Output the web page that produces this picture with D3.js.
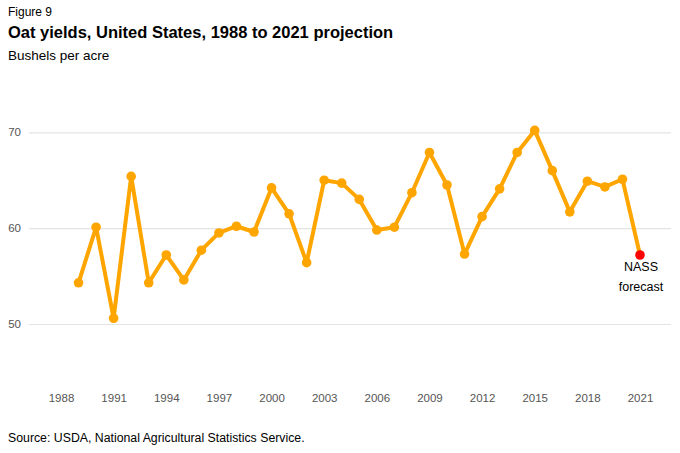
<!DOCTYPE html>
<html>
<head>
<meta charset="utf-8">
<script src="https://cdn.jsdelivr.net/npm/d3@7"></script>
<style>
  body { margin: 0; background: #fff; }
  svg { font-family: "Liberation Sans", Arial, sans-serif; display: block; }
</style>
</head>
<body>
<div id="chart-area"></div>
<script>
// data (bushels per acre)
const years = [1989, 1990, 1991, 1992, 1993, 1994, 1995, 1996, 1997, 1998, 1999, 2000,
    2001, 2002, 2003, 2004, 2005, 2006, 2007, 2008, 2009, 2010, 2011, 2012,
    2013, 2014, 2015, 2016, 2017, 2018, 2019, 2020, 2021];
const yields = [54.3, 60.1, 50.6, 65.4, 54.3, 57.2, 54.6, 57.7, 59.5, 60.2, 59.6, 64.2,
    61.5, 56.4, 65.0, 64.7, 63.0, 59.8, 60.1, 63.7, 67.9, 64.5, 57.3, 61.2,
    64.1, 67.9, 70.2, 66.0, 61.7, 64.9, 64.3, 65.1, 57.2];
const xTicks = [1988, 1991, 1994, 1997, 2000, 2003, 2006, 2009, 2012, 2015, 2018, 2021];
const yTicks = [50, 60, 70];
const forecastYear = 2021;

const svgWidth = 680;
const svgHeight = 453;

const svg = d3.select("#chart-area")
    .append("svg")
    .attr("width", svgWidth)
    .attr("height", svgHeight);

const data = years.map((y, i) => ({ year: y, value: yields[i] }));

const xScale = d3.scaleLinear()
    .domain([1988, 2021])
    .range([61, 640]);

const yScale = d3.scaleLinear()
    .domain([50, 70])
    .range([324, 132.3]);

// titles
svg.append("text")
    .attr("x", 8).attr("y", 16)
    .style("font-size", "12px")
    .attr("fill", "#000")
    .text("Figure 9");

svg.append("text")
    .attr("x", 8).attr("y", 38)
    .style("font-size", "16.5px")
    .style("font-weight", "bold")
    .attr("fill", "#000")
    .text("Oat yields, United States, 1988 to 2021 projection");

svg.append("text")
    .attr("x", 8).attr("y", 60)
    .style("font-size", "13.5px")
    .attr("fill", "#000")
    .text("Bushels per acre");

// y grid + labels
const yAxis = svg.append("g")
    .attr("class", "y-axis")
    .attr("transform", "translate(29,0)")
    .call(d3.axisLeft(yScale)
        .tickValues(yTicks)
        .tickSize(-(671 - 29))
        .tickPadding(8)
        .tickFormat(d => `${d}`));

yAxis.select(".domain").remove();
yAxis.selectAll("line")
    .attr("stroke", "#e3e3e3")
    .attr("stroke-width", 1.2);
yAxis.selectAll("text")
    .attr("fill", "#555")
    .style("font-size", "11.5px")
    .style("font-family", "Liberation Sans, Arial, sans-serif");

// x labels
const xAxis = svg.append("g")
    .attr("class", "x-axis")
    .attr("transform", "translate(0,394)")
    .call(d3.axisBottom(xScale)
        .tickValues(xTicks)
        .tickSize(0)
        .tickPadding(0)
        .tickFormat(d => `${d}`));

xAxis.select(".domain").remove();
xAxis.selectAll("text")
    .attr("fill", "#555")
    .style("font-size", "11.5px")
    .style("font-family", "Liberation Sans, Arial, sans-serif");

// line
const line = d3.line()
    .x(d => xScale(d.year))
    .y(d => yScale(d.value));

svg.append("path")
    .datum(data)
    .attr("fill", "none")
    .attr("stroke", "#FFA500")
    .attr("stroke-width", 4)
    .attr("stroke-linejoin", "round")
    .attr("d", line);

svg.selectAll("circle.pt")
    .data(data)
    .join("circle")
    .attr("class", "pt")
    .attr("cx", d => xScale(d.year))
    .attr("cy", d => yScale(d.value))
    .attr("r", 4.8)
    .attr("fill", d => d.year === forecastYear ? "#FF0000" : "#FFA500");

// forecast label
const last = data.find(d => d.year === forecastYear);
const lbl = svg.append("text")
    .attr("x", xScale(last.year) + 1)
    .attr("y", yScale(last.value) + 16)
    .attr("text-anchor", "middle")
    .style("font-size", "12.5px")
    .attr("fill", "#000");
lbl.append("tspan").attr("x", xScale(last.year) + 1).attr("dy", 0).text("NASS");
lbl.append("tspan").attr("x", xScale(last.year) + 1).attr("dy", "1.6em").text("forecast");

// source
svg.append("text")
    .attr("x", 8).attr("y", 442)
    .style("font-size", "12.3px")
    .attr("fill", "#000")
    .text("Source: USDA, National Agricultural Statistics Service.");
</script>
</body>
</html>
